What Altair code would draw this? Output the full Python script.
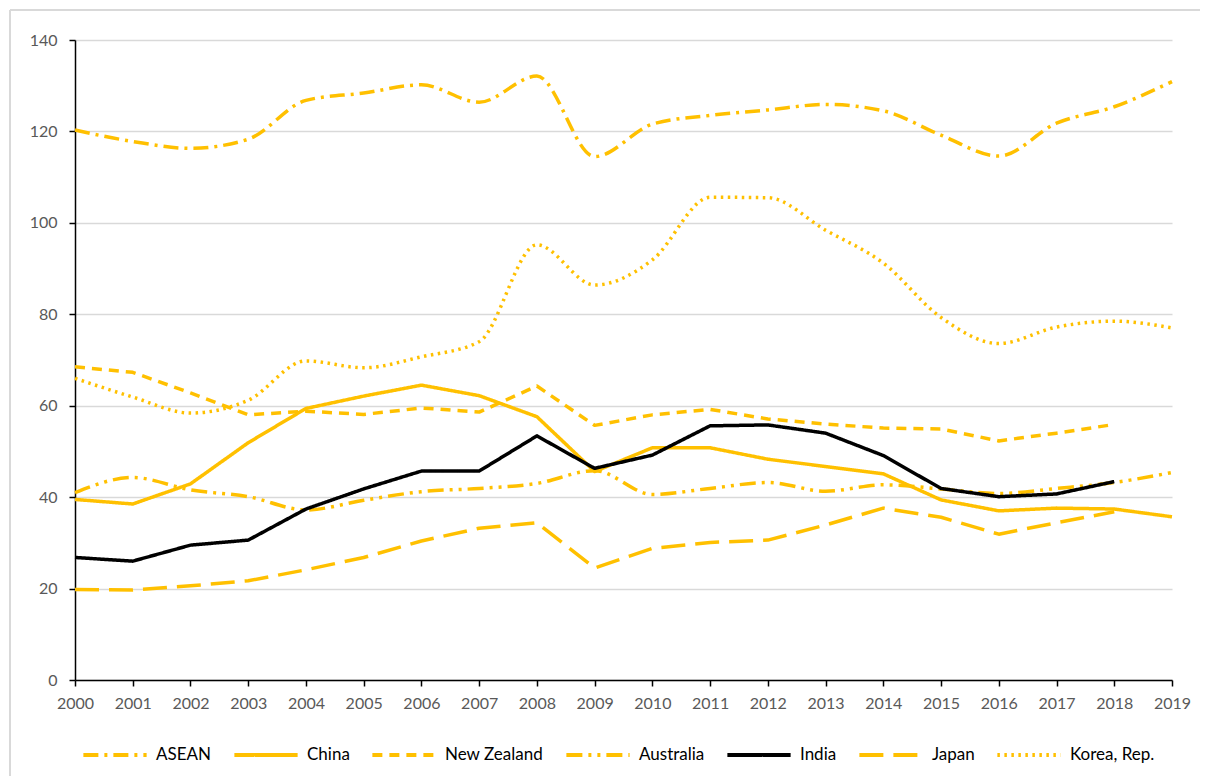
import altair as alt
import pandas as pd

years = list(range(2000, 2020))
series_names = ["ASEAN", "China", "New Zealand", "Australia", "India", "Japan", "Korea, Rep."]
smooth_series = ["ASEAN", "Australia", "Korea, Rep."]

asean = [120.3, 117.8, 116.3, 118.3, 126.8, 128.4, 130.2, 126.4, 132.1, 114.5,
         121.6, 123.5, 124.7, 125.9, 124.5, 119.2, 114.6, 121.8, 125.4, 130.9]
china = [39.5, 38.5, 42.9, 51.9, 59.4, 62.1, 64.5, 62.2, 57.6, 45.6,
         50.8, 50.8, 48.3, 46.7, 45.1, 39.4, 37.0, 37.6, 37.4, 35.7]
new_zealand = [68.5, 67.3, 62.8, 58.0, 58.8, 58.1, 59.5, 58.6, 64.3, 55.7,
               58.0, 59.2, 57.1, 56.0, 55.1, 54.9, 52.3, 54.0, 55.9, None]
australia = [41.0, 44.3, 41.6, 40.1, 37.2, 39.3, 41.2, 41.9, 43.0, 45.8,
             40.6, 41.9, 43.2, 41.3, 42.7, 41.8, 40.8, 41.9, 43.2, 45.4]
india = [26.8, 26.0, 29.5, 30.6, 37.4, 41.8, 45.7, 45.7, 53.4, 46.3,
         49.2, 55.6, 55.8, 54.0, 49.1, 41.9, 40.1, 40.7, 43.4, None]
japan = [19.8, 19.7, 20.6, 21.7, 24.1, 26.8, 30.4, 33.2, 34.4, 24.5,
         28.8, 30.1, 30.6, 33.9, 37.6, 35.6, 31.9, 34.4, 36.8, None]
korea = [66.0, 61.9, 58.4, 61.2, 69.8, 68.3, 70.7, 74.0, 95.2, 86.4,
         91.9, 105.6, 105.5, 98.4, 91.2, 79.3, 73.6, 77.2, 78.5, 77.0]

values = [asean, china, new_zealand, australia, india, japan, korea]

rows = []
for name, vals in zip(series_names, values):
    for yr, v in zip(years, vals):
        if v is not None:
            rows.append({"year": yr, "value": v, "series": name})
df = pd.DataFrame(rows)

gold = "#FFC000"
colors = [gold, gold, gold, gold, "#000000", gold, gold]
dashes = [[15, 6, 3, 6], [1, 0], [10, 7], [16, 6, 3, 6, 3, 6], [1, 0], [24, 10], [2.5, 4.5]]

x_enc = alt.X("year:Q",
              scale=alt.Scale(domain=[2000, 2019], nice=False, zero=False),
              axis=alt.Axis(values=years, format="d", title=None, grid=False,
                            labelPadding=9, tickSize=6, labelFlush=False))
y_enc = alt.Y("value:Q",
              scale=alt.Scale(domain=[0, 140], nice=False),
              axis=alt.Axis(values=[0, 20, 40, 60, 80, 100, 120, 140], title=None,
                            grid=True, gridColor="#D9D9D9", gridWidth=1.5,
                            labelPadding=12, tickSize=6))
color_enc = alt.Color("series:N",
                      scale=alt.Scale(domain=series_names, range=colors),
                      sort=series_names,
                      legend=alt.Legend(title=None, orient="none", direction="horizontal",
                                        legendX=6, legendY=681, columns=7,
                                        symbolType="stroke", symbolSize=4000,
                                        symbolStrokeWidth=4, labelFontSize=17,
                                        labelFont="Lato", labelColor="#000000",
                                        labelOffset=7, columnPadding=14, labelLimit=200))
dash_enc = alt.StrokeDash("series:N",
                          scale=alt.Scale(domain=series_names, range=dashes),
                          sort=series_names)

base = alt.Chart(df)

linear_lines = base.transform_filter(
    alt.FieldOneOfPredicate(field="series", oneOf=[s for s in series_names if s not in smooth_series])
).mark_line(strokeWidth=3.5, strokeJoin="round").encode(
    x=x_enc, y=y_enc, color=color_enc, strokeDash=dash_enc,
    detail="series:N", order=alt.Order("year:Q"),
)

smooth_lines = base.transform_filter(
    alt.FieldOneOfPredicate(field="series", oneOf=smooth_series)
).mark_line(strokeWidth=3.5, strokeJoin="round", interpolate="monotone").encode(
    x=x_enc, y=y_enc, color=color_enc, strokeDash=dash_enc,
    detail="series:N", order=alt.Order("year:Q"),
)

border_left = alt.Chart(pd.DataFrame({"a": [0]})).mark_rule(color="#D9D9D9", strokeWidth=2).encode(
    x=alt.value(-65), y=alt.value(-30), y2=alt.value(760)
)
border_top = alt.Chart(pd.DataFrame({"a": [0]})).mark_rule(color="#D9D9D9", strokeWidth=2).encode(
    x=alt.value(-65), x2=alt.value(1160), y=alt.value(-30)
)

chart = alt.layer(border_left, border_top, smooth_lines, linear_lines).properties(
    width=1097, height=640,
    autosize=alt.AutoSizeParams(type="none"),
    padding={"left": 67, "top": 32, "right": 28, "bottom": 96},
).resolve_scale(color="shared", strokeDash="shared").configure_axis(
    domainColor="#000000", domainWidth=1.5, tickColor="#000000", tickWidth=1.5,
    labelColor="#595959", labelFont="Lato", labelFontSize=16,
).configure_view(stroke=None)

chart.save("out.html", embed_options={"renderer": "svg", "actions": False})
